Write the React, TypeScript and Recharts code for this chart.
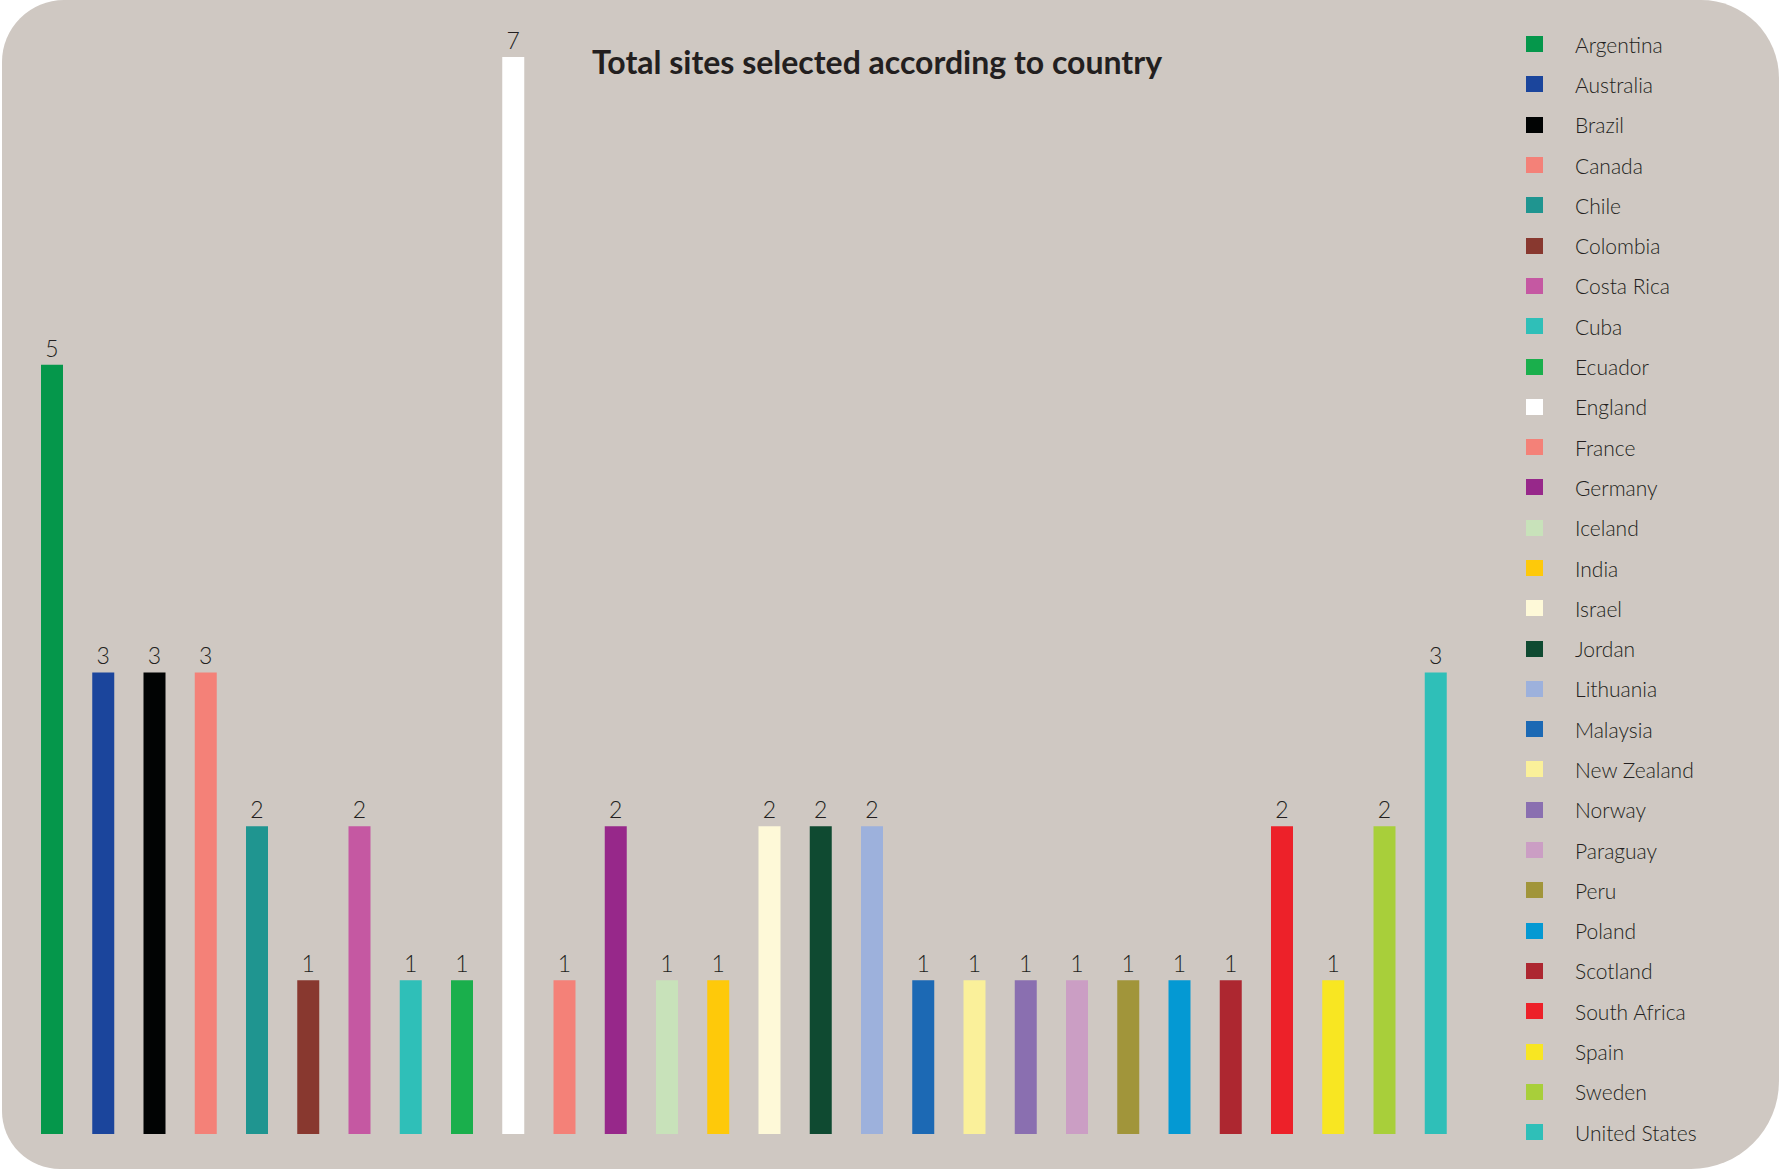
import React from 'react'
import { BarChart, Bar, XAxis, YAxis, Cell, LabelList } from 'recharts'

const countries = [
  'Argentina', 'Australia', 'Brazil', 'Canada', 'Chile', 'Colombia', 'Costa Rica',
  'Cuba', 'Ecuador', 'England', 'France', 'Germany', 'Iceland', 'India', 'Israel',
  'Jordan', 'Lithuania', 'Malaysia', 'New Zealand', 'Norway', 'Paraguay', 'Peru',
  'Poland', 'Scotland', 'South Africa', 'Spain', 'Sweden', 'United States',
]

const sites = [5, 3, 3, 3, 2, 1, 2, 1, 1, 7, 1, 2, 1, 1, 2, 2, 2, 1, 1, 1, 1, 1, 1, 1, 2, 1, 2, 3]

const colors = [
  '#05974B', '#1B459C', '#010303', '#F48178', '#1F9590', '#88382F', '#C558A2',
  '#2FBFB8', '#1AAF4C', '#FFFFFF', '#F48178', '#97288A', '#C8E2BA', '#FEC90A',
  '#FEF9D8', '#0F4A31', '#9DB1DC', '#1C69B4', '#FAF09A', '#8A6FB0', '#CB9EC4',
  '#A1953A', '#0499D3', '#AD2730', '#ED2129', '#F8E622', '#A8CF3A', '#2FBFB8',
]

const data = countries.map((c, i) => ({ country: c, sites: sites[i] }))

const W = 1784
const H = 1169
const FONT = 'Lato, "Open Sans", sans-serif'

export default function App() {
  return (
    <div style={{ position: 'absolute', left: 0, top: 0, width: W, height: H, background: '#FFFFFF', fontFamily: FONT }}>
      <div
        style={{
          position: 'absolute', left: 2, top: 0, width: 1777, height: H,
          background: '#CFC8C2', borderRadius: '62px 78px 88px 58px',
        }}
      />
      <div style={{ position: 'absolute', left: 0, top: 0 }}>
        <BarChart width={W} height={H} data={data} margin={{ top: 57, right: 323, bottom: 35, left: 26 }}>
          <XAxis dataKey="country" hide />
          <YAxis hide domain={[0, 7]} />
          <Bar dataKey="sites" barSize={22} isAnimationActive={false}>
            {data.map((d, i) => (
              <Cell key={d.country} fill={colors[i]} />
            ))}
            <LabelList
              dataKey="sites"
              position="top"
              offset={8}
              fill="#231F20"
              fontSize={23}
              fontWeight={300}
              fontFamily={FONT}
            />
          </Bar>
        </BarChart>
      </div>
      <div
        style={{
          position: 'absolute', left: 577, top: 42, width: 600, textAlign: 'center',
          fontSize: 32, fontWeight: 700, color: '#231F20', lineHeight: '40px', whiteSpace: 'nowrap',
        }}
      >
        Total sites selected according to country
      </div>
      <div style={{ position: 'absolute', left: 1526, top: 24 }}>
        {countries.map((c, i) => (
          <div key={c} style={{ display: 'flex', alignItems: 'center', height: 40.3 }}>
            <div style={{ width: 17, height: 16, background: colors[i] }} />
            <span style={{ marginLeft: 32, fontSize: 21, fontWeight: 300, color: '#231F20' }}>{c}</span>
          </div>
        ))}
      </div>
    </div>
  )
}
